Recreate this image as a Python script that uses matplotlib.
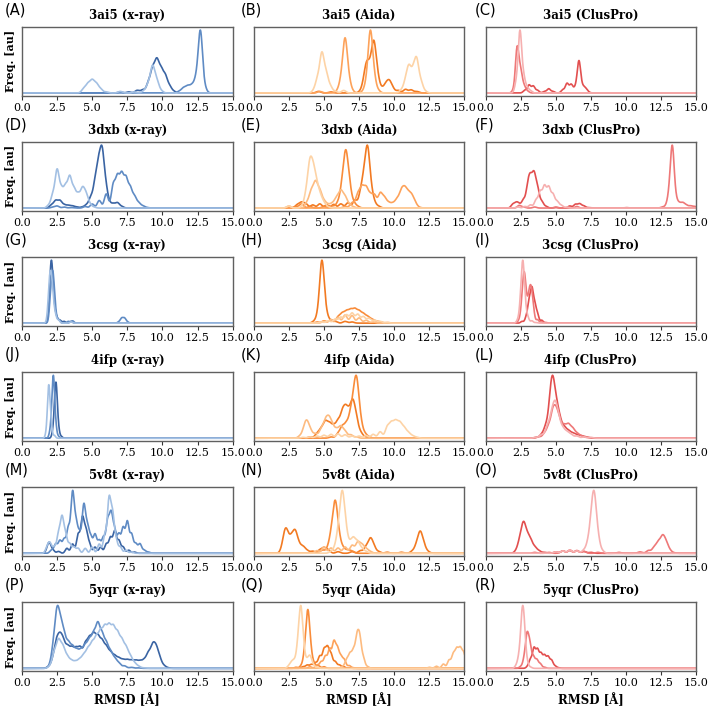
import numpy as np
import pandas as pd
import matplotlib
matplotlib.use("Agg")
import matplotlib.pyplot as plt
import seaborn as sns

targets = ["3ai5", "3dxb", "3csg", "4ifp", "5v8t", "5yqr"]
methods = ["x-ray", "Aida", "ClusPro"]
letters = list("ABCDEFGHIJKLMNOPQR")
x_ticks = [0.0, 2.5, 5.0, 7.5, 10.0, 12.5, 15.0]

# RMSD values (Å) of each docking run with their weights
# 3ai5
xray_3ai5 = [
    [(4.4, .8), (4.7, 1.6), (5.0, 2.2), (5.3, 1.6), (5.6, .7), (6.0, .2), (7.0, .3), (8.0, .2),
     (8.7, .4), (9.0, 1.6), (9.3, 4.8), (9.6, 2.2), (9.9, .4)],
    [(11.2, .3), (11.5, .9), (11.8, 1.2), (12.1, 1.3), (12.4, 2.5), (12.7, 11.5), (13.0, 1.0)],
    [(7.0, .2), (7.6, .2), (8.2, .5), (8.6, .6), (9.0, 1.8), (9.3, 4.2), (9.6, 5.6), (9.9, 4.0),
     (10.2, 3.0), (10.5, 1.2), (10.8, .3)],
]
aida_3ai5 = [
    [(4.3, .5), (4.55, 2.5), (4.85, 7.2), (5.15, 3.5), (5.45, 1.2), (5.8, .3), (6.4, .5),
     (10.5, .5), (10.8, 2.0), (11.05, 4.6), (11.35, 3.6), (11.6, 5.8), (11.9, 2.0), (12.2, .3)],
    [(4.7, .3), (6.0, .5), (6.25, 2.5), (6.5, 9.5), (6.75, 2.5), (7.0, .4),
     (7.8, .3), (8.05, 2.0), (8.3, 11.0), (8.55, 3.0), (8.85, .5)],
    [(4.6, .3), (5.5, .2), (7.6, .3), (7.85, 1.8), (8.05, 4.5), (8.3, 4.0), (8.55, 8.5), (8.8, 3.0),
     (9.1, .8), (9.4, 1.5), (9.65, 2.0), (9.9, .8), (10.3, .5), (10.8, .7), (11.2, .6), (11.6, .3)],
]
cluspro_3ai5 = [
    [(2.2, 2.0), (2.45, 11.5), (2.7, 3.0), (2.95, 1.0), (3.2, .4)],
    [(2.0, .5), (2.25, 8.5), (2.5, 4.0), (2.75, 1.2), (3.0, .3)],
    [(2.8, .5), (3.1, 1.5), (3.4, 1.3), (3.7, .5), (4.2, .3), (4.5, .8), (4.8, .3), (5.5, .6),
     (5.8, 1.8), (6.1, 1.6), (6.4, 1.0), (6.65, 6.0), (6.9, 1.0), (7.1, .8), (7.3, .2)],
]
# 3dxb
xray_3dxb = [
    [(1.9, .5), (2.2, 2.5), (2.5, 7.2), (2.8, 3.5), (3.1, 4.0), (3.4, 5.8), (3.7, 3.5), (4.0, 2.5),
     (4.3, 3.5), (4.55, 2.5), (4.8, .8), (5.1, .2)],
    [(2.2, .2), (2.5, .4), (3.0, .2), (3.5, .1), (4.5, .3), (5.0, .8), (5.5, 1.5), (6.0, 2.8),
     (6.5, 4.5), (6.8, 5.8), (7.1, 6.2), (7.4, 5.5), (7.7, 3.8), (8.0, 2.2), (8.3, 1.0), (8.6, .4),
     (8.9, .1)],
    [(2.1, .6), (2.4, 1.4), (2.7, 1.4), (3.0, .6), (3.3, .5), (3.6, .4), (3.9, .2), (4.3, .2),
     (4.6, .6), (4.9, 2.0), (5.2, 4.5), (5.45, 7.5), (5.7, 10.0), (5.95, 4.0), (6.2, 1.0), (6.5, .8),
     (6.8, 1.0), (7.1, .3)],
]
aida_3dxb = [
    [(2.5, .4), (3.5, .4), (3.75, 2.5), (4.0, 7.5), (4.25, 6.0), (4.5, 3.5), (4.75, 1.8), (5.0, .8),
     (5.3, .2)],
    [(2.5, .4), (3.8, 1.0), (4.1, 3.0), (4.4, 4.5), (4.7, 3.0), (5.0, 1.2), (5.3, .6), (5.6, .8),
     (5.9, 1.8), (6.2, 3.0), (6.5, 2.0), (6.8, .6), (7.1, .2)],
    [(6.5, .3), (7.0, 1.0), (7.4, 2.5), (7.7, 3.6), (8.0, 3.5), (8.3, 2.2), (8.6, 2.3), (9.0, 2.7),
     (9.3, 1.8), (9.6, .9), (9.9, .8), (10.2, 1.5), (10.5, 2.8), (10.75, 3.0), (11.0, 2.2),
     (11.25, 2.0), (11.5, .8), (11.8, .1)],
    [(3.0, .3), (3.4, .8), (4.0, .3), (5.0, .3), (5.6, .4), (6.0, 1.0), (6.3, 4.0), (6.55, 9.2),
     (6.8, 4.0), (7.1, 1.0), (7.4, .3)],
    [(3.1, .6), (3.4, 1.0), (3.7, .8), (4.2, .6), (4.7, .8), (5.2, .6), (5.7, .7), (6.2, .8),
     (6.7, 1.0), (7.2, 1.5), (7.6, 2.5), (7.85, 5.0), (8.1, 10.0), (8.35, 3.0), (8.6, .8), (8.9, .3)],
]
cluspro_3dxb = [
    [(2.3, .2), (2.8, .3), (3.2, .6), (3.6, 1.5), (3.9, 3.0), (4.2, 4.0), (4.5, 3.8), (4.8, 2.5),
     (5.1, 1.2), (5.4, .5), (5.8, .2)],
    [(2.4, .5), (2.7, .2), (3.5, .2), (5.0, .2), (6.5, .3), (10.0, .1), (12.6, .2), (12.9, .5),
     (13.1, 2.5), (13.3, 11.0), (13.55, 1.5), (13.8, .8), (14.05, .9), (14.3, .5), (14.6, .4),
     (14.9, .3)],
    [(1.95, .7), (2.2, .9), (2.4, .6), (2.7, 1.5), (3.0, 3.5), (3.2, 4.8), (3.45, 5.8), (3.7, 3.5),
     (4.0, 1.2), (4.3, .3), (5.0, .1), (6.0, .4), (6.4, .7), (6.7, .8), (7.0, .4), (7.4, .1)],
]
# 3csg
xray_3csg = [
    [(1.9, 2.0), (2.0, 6.0), (2.15, 5.0), (2.35, 1.5), (2.6, .5), (3.5, .2)],
    [(2.05, 4.0), (2.2, 7.0), (2.35, 2.0), (2.6, .6), (3.3, .3), (3.6, .4), (6.9, .2), (7.1, .8),
     (7.3, .8), (7.5, .2)],
    [(2.0, 3.0), (2.1, 8.0), (2.25, 3.0), (2.45, 1.0), (2.7, .5), (3.0, .3), (3.5, .3)],
]
aida_3csg = [
    [(4.8, .2), (5.3, .4), (5.8, .7), (6.2, 1.0), (6.6, 1.4), (7.0, 1.7), (7.4, 1.5), (7.8, 1.1),
     (8.2, .8), (8.6, .5), (9.0, .3), (9.5, .1)],
    [(5.0, .3), (5.5, .6), (6.0, 1.0), (6.5, 1.4), (7.0, 1.3), (7.5, .9), (8.0, .5), (8.5, .2)],
    [(4.5, .2), (5.0, .4), (5.5, .6), (6.0, 1.0), (6.3, 1.5), (6.6, 1.8), (6.9, 2.0), (7.2, 2.1),
     (7.5, 1.8), (7.8, 1.4), (8.1, 1.0), (8.4, .6), (8.7, .3), (9.0, .2), (9.5, .1)],
    [(4.3, .3), (4.6, 1.5), (4.85, 10.0), (5.1, 2.0), (5.4, .5), (5.8, .3), (6.5, .3), (7.0, .2)],
]
cluspro_3csg = [
    [(2.3, .5), (2.5, 3.0), (2.65, 9.0), (2.8, 3.0), (3.0, 1.0), (3.3, .4), (3.6, .1)],
    [(2.4, .5), (2.6, 3.0), (2.75, 7.0), (2.9, 3.0), (3.1, 4.0), (3.25, 4.5), (3.4, 2.0), (3.7, .6),
     (4.0, .2)],
    [(2.6, .3), (2.9, 1.0), (3.1, 3.5), (3.3, 5.5), (3.5, 3.0), (3.7, 1.5), (4.0, .5), (4.3, .1)],
]
# 4ifp
xray_4ifp = [
    [(1.75, 1.0), (1.9, 9.0), (2.05, 3.0), (2.3, .5)],
    [(2.0, 1.0), (2.15, 4.0), (2.25, 9.0), (2.4, 2.0), (2.6, .3)],
    [(2.2, 1.0), (2.35, 5.0), (2.45, 7.0), (2.6, 1.5), (2.8, .3)],
]
aida_4ifp = [
    [(3.5, .2), (4.0, .3), (4.5, .5), (5.0, .7), (5.5, .9), (6.0, 1.0), (6.5, .8), (7.0, .5),
     (7.5, .5), (8.0, .6), (8.5, .9), (9.0, 1.5), (9.5, 2.5), (9.8, 3.2), (10.1, 3.5), (10.4, 3.2),
     (10.7, 2.2), (11.0, 1.2), (11.3, .5), (11.6, .2)],
    [(3.3, .5), (3.6, 2.0), (3.8, 3.0), (4.05, 1.5), (4.4, 1.0), (4.8, 2.0), (5.1, 3.5), (5.35, 3.8),
     (5.6, 2.5), (5.9, 1.8), (6.2, 2.5), (6.5, 1.5), (6.9, .8), (7.3, .3)],
    [(5.5, .3), (6.0, 1.0), (6.3, 2.5), (6.6, 3.0), (6.9, 5.0), (7.15, 7.5), (7.35, 10.0),
     (7.6, 3.5), (7.9, 1.0), (8.2, .3)],
    [(4.0, .3), (4.5, 1.0), (4.8, 2.0), (5.1, 3.5), (5.4, 3.0), (5.7, 2.5), (6.0, 3.5), (6.3, 5.0),
     (6.55, 5.5), (6.8, 4.5), (7.05, 7.0), (7.3, 4.0), (7.6, 1.2), (7.9, .3)],
]
cluspro_4ifp = [
    [(3.6, .2), (4.0, .8), (4.4, 2.5), (4.7, 4.5), (4.95, 6.5), (5.2, 4.0), (5.5, 2.0), (5.8, 1.3),
     (6.1, .8), (6.5, .5), (7.0, .3), (7.5, .2)],
    [(3.8, .3), (4.2, 1.0), (4.5, 2.5), (4.8, 5.5), (5.05, 5.0), (5.3, 3.0), (5.6, 2.5), (5.9, 2.8),
     (6.2, 2.0), (6.5, 1.0), (6.8, .5), (7.2, .2)],
    [(3.6, .2), (4.0, .8), (4.3, 2.5), (4.6, 6.5), (4.8, 10.0), (5.05, 6.0), (5.3, 3.5), (5.6, 2.2),
     (5.9, 1.5), (6.2, 1.0), (6.5, .7), (6.8, .5), (7.1, .3), (7.4, .1)],
]
# 5v8t
xray_5v8t = [
    [(1.8, 1.0), (2.0, 1.5), (2.3, 1.0), (2.6, 3.0), (2.85, 5.5), (3.1, 3.0), (3.4, 1.5), (3.7, 1.0),
     (4.0, .8), (4.5, .8), (5.0, 1.0), (5.5, 1.5), (5.9, 3.0), (6.2, 8.5), (6.45, 6.0), (6.7, 2.0),
     (7.0, 1.0), (7.4, .5), (7.8, .2)],
    [(2.1, .5), (2.4, 1.5), (2.7, 2.0), (3.0, 2.2), (3.3, 4.0), (3.6, 9.5), (3.85, 4.5), (4.1, 3.0),
     (4.4, 7.5), (4.65, 4.0), (4.9, 2.5), (5.2, 3.0), (5.5, 2.0), (5.8, 2.5), (6.1, 5.0), (6.35, 6.0),
     (6.6, 3.5), (6.9, 3.0), (7.2, 4.0), (7.5, 5.0), (7.8, 3.0), (8.1, 1.5), (8.4, 1.5), (8.7, .5),
     (9.0, .2)],
    [(1.8, .5), (1.95, 1.5), (2.2, .5), (2.6, .3), (3.2, .8), (3.6, 1.5), (4.0, 3.0), (4.3, 5.5),
     (4.55, 3.5), (4.8, 1.5), (5.2, 1.0), (5.6, 1.0), (6.0, 1.5), (6.3, 2.5), (6.6, 3.5), (6.9, 2.0),
     (7.2, 1.0), (7.6, .5), (8.0, .2)],
]
aida_5v8t = [
    [(5.5, .3), (5.8, 1.0), (6.05, 4.0), (6.3, 10.0), (6.55, 4.0), (6.85, 1.5), (7.1, 2.5),
     (7.4, 2.0), (7.7, .8), (8.0, .3)],
    [(4.5, .5), (5.0, 1.2), (5.5, 1.0), (6.0, 1.0), (6.5, 1.2), (7.0, 1.5), (7.4, 2.0), (7.7, 1.5),
     (8.0, .8), (8.3, .3)],
    [(4.5, .2), (4.9, .6), (5.3, 1.0), (5.55, 3.5), (5.8, 8.5), (6.05, 3.0), (6.35, 1.0), (6.7, .6),
     (7.0, .4)],
    [(2.05, 1.0), (2.25, 3.5), (2.45, 2.0), (2.7, 2.5), (2.95, 3.5), (3.2, 1.5), (3.5, 1.2),
     (3.8, .5), (4.2, .4), (4.7, .6), (5.0, 1.0), (5.3, .6), (6.0, .3), (7.0, .3), (7.6, .5),
     (8.0, 1.2), (8.3, 2.5), (8.55, 1.2), (8.9, .3), (9.5, .2), (10.5, .2), (11.3, .4), (11.6, 1.5),
     (11.85, 3.5), (12.1, 1.5), (12.4, .3)],
]
cluspro_5v8t = [
    [(5.0, .3), (5.5, .5), (6.0, .7), (6.5, .5), (7.0, .6), (7.3, 2.0), (7.55, 6.0), (7.75, 10.0),
     (8.0, 3.0), (8.3, .5)],
    [(3.5, .2), (4.5, .2), (5.5, .5), (6.0, .7), (6.5, .6), (7.0, .4), (8.0, .2), (9.5, .2),
     (11.0, .3), (11.6, .6), (12.0, 1.2), (12.3, 2.2), (12.6, 3.2), (12.85, 2.0), (13.1, .6),
     (13.4, .1)],
    [(2.2, .5), (2.45, 2.5), (2.7, 5.5), (2.95, 3.0), (3.2, 2.5), (3.5, 1.2), (3.8, .5), (4.2, .2),
     (5.0, .3), (5.5, .5), (6.0, .6), (6.5, .5), (7.0, .4), (7.5, .2)],
]
# 5yqr
xray_5yqr = [
    [(2.0, .4), (2.3, 3.0), (2.6, 5.2), (2.9, 4.0), (3.2, 2.2), (3.5, 1.4), (3.8, 1.2), (4.1, 1.6),
     (4.4, 2.4), (4.7, 3.5), (5.0, 4.5), (5.3, 5.5), (5.6, 6.5), (5.9, 7.2), (6.2, 7.4), (6.5, 7.2),
     (6.8, 6.2), (7.1, 5.0), (7.4, 3.8), (7.7, 2.3), (8.0, 1.0), (8.3, .4), (8.7, .1)],
    [(2.0, .5), (2.25, 4.0), (2.5, 10.0), (2.75, 7.0), (3.0, 5.5), (3.3, 4.5), (3.6, 3.8), (3.9, 3.2),
     (4.2, 3.2), (4.5, 4.0), (4.8, 5.0), (5.1, 6.0), (5.4, 8.0), (5.7, 6.0), (6.0, 4.5), (6.3, 3.0),
     (6.6, 1.8), (6.9, 1.0), (7.3, .5), (7.8, .2), (8.3, .1)],
    [(1.9, .3), (2.2, 1.5), (2.45, 4.5), (2.7, 5.2), (2.95, 4.5), (3.25, 3.8), (3.55, 3.6),
     (3.85, 3.5), (4.15, 3.8), (4.5, 4.5), (4.8, 5.3), (5.1, 6.0), (5.4, 5.6), (5.7, 4.8), (6.0, 3.8),
     (6.3, 2.8), (6.6, 2.2), (6.9, 1.8), (7.2, 1.5), (7.5, 1.5), (7.8, 1.4), (8.1, 1.4), (8.4, 1.3),
     (8.7, 1.5), (9.0, 2.8), (9.3, 4.0), (9.55, 3.5), (9.8, 1.8), (10.1, .5), (10.4, .1)],
]
aida_5yqr = [
    [(2.5, .4), (2.7, 1.0), (2.9, 1.2), (3.15, 4.0), (3.35, 10.0), (3.55, 3.0), (3.8, 1.2),
     (4.0, 2.0), (4.2, .6), (4.5, .2)],
    [(6.3, .3), (6.6, 1.5), (6.85, 2.5), (7.1, 3.0), (7.35, 5.2), (7.55, 5.0), (7.8, 1.8), (8.1, .3),
     (12.5, .2), (13.0, .4), (13.5, .8), (13.9, 1.5), (14.2, 2.5), (14.45, 3.3), (14.7, 3.4),
     (14.95, 2.7)],
    [(4.0, .3), (4.5, .6), (4.8, 1.2), (5.1, 2.2), (5.4, 3.5), (5.7, 4.7), (5.95, 3.5), (6.2, 2.0),
     (6.45, 1.5), (6.8, .5), (7.1, .1)],
    [(3.0, .2), (3.4, .5), (3.65, 3.0), (3.85, 9.5), (4.05, 3.0), (4.3, .8), (4.6, .5), (5.0, .3)],
    [(3.5, .3), (3.8, .6), (4.1, .7), (4.4, 1.0), (4.7, 2.2), (5.0, 3.3), (5.25, 3.6), (5.5, 2.5),
     (5.8, 1.2), (6.1, .6), (6.4, .3), (6.8, .1)],
]
cluspro_5yqr = [
    [(2.2, .5), (2.4, 2.0), (2.6, 8.0), (2.75, 6.0), (2.95, 1.0), (3.2, .2)],
    [(2.5, .3), (2.75, 1.5), (2.95, 5.5), (3.15, 4.0), (3.4, 2.0), (3.65, 1.5), (3.9, .8), (4.2, .2)],
    [(3.0, .3), (3.2, 1.5), (3.45, 3.5), (3.7, 3.2), (3.95, 2.5), (4.2, 2.2), (4.45, 2.0), (4.7, 1.4),
     (4.95, .4), (5.2, .1)],
]

panels = [
    [xray_3ai5, aida_3ai5, cluspro_3ai5],
    [xray_3dxb, aida_3dxb, cluspro_3dxb],
    [xray_3csg, aida_3csg, cluspro_3csg],
    [xray_4ifp, aida_4ifp, cluspro_4ifp],
    [xray_5v8t, aida_5v8t, cluspro_5v8t],
    [xray_5yqr, aida_5yqr, cluspro_5yqr],
]

# styling: colour shades (light -> dark) and kernel width per panel
palettes = {
    "x-ray": ["#a3c0e3", "#7ea4d4", "#5f8bc4", "#4a76b4", "#3a64a3"],
    "Aida": ["#fdd3a6", "#fdbb80", "#fda25a", "#f98c3a", "#f27a22"],
    "ClusPro": ["#f6b0b0", "#f29191", "#ee7878", "#e96464", "#e24f4f"],
}
bandwidth = [
    [0.15, 0.15, 0.12],
    [0.14, 0.15, 0.13],
    [0.10, 0.15, 0.10],
    [0.085, 0.15, 0.15],
    [0.12, 0.15, 0.15],
    [0.15, 0.12, 0.11],
]


def shades_for(n, pal):
    if n == 3:
        return [pal[0], pal[2], pal[4]]
    if n == 4:
        return [pal[0], pal[1], pal[3], pal[4]]
    return pal[:n]


def draw_panel(ax, runs, pal, bw):
    rows = []
    for k, run in enumerate(runs):
        for r, w in run:
            rows.append((r, w, f"run{k}"))
    df = pd.DataFrame(rows, columns=["rmsd", "weight", "run"])
    order = [f"run{k}" for k in range(len(runs))]

    def fixed_bw(kde):
        # absolute kernel width in Å
        return bw / np.sqrt(np.cov(kde.dataset, aweights=kde.weights))

    sns.kdeplot(data=df, x="rmsd", weights="weight", hue="run", hue_order=order,
                palette=shades_for(len(runs), pal), bw_method=fixed_bw, cut=300,
                clip=(0, 15), gridsize=1200, linewidth=1.2, legend=False, ax=ax)
    ymax = max(line.get_ydata().max() for line in ax.lines)
    ax.set_ylim(-0.045 * ymax, 1.05 * ymax)


serif = "DejaVu Serif"
fig, axes = plt.subplots(6, 3, figsize=(7.09, 7.08), dpi=100,
                         gridspec_kw=dict(left=0.031, right=0.982, top=0.962, bottom=0.052,
                                          wspace=0.1, hspace=0.67))
letter_x = [-0.081, -0.062, -0.05]

for i, target in enumerate(targets):
    for j, method in enumerate(methods):
        ax = axes[i, j]
        draw_panel(ax, panels[i][j], palettes[method], bandwidth[i][j])
        ax.set_xlim(0, 15)
        ax.set_xticks(x_ticks)
        ax.set_xticklabels([f"{t:.1f}" for t in x_ticks], family=serif, fontsize=8)
        ax.set_yticks([])
        ax.tick_params(axis="x", length=3, width=0.8, pad=2, color="#333333")
        for sp in ax.spines.values():
            sp.set_color("#606060")
            sp.set_linewidth(1.0)
        ax.set_title(f"{target} ({method})", family=serif, fontweight="bold", fontsize=8.5, pad=6)
        ax.set_ylabel("Freq. [au]" if j == 0 else "", family=serif, fontweight="bold",
                      fontsize=8, labelpad=4)
        ax.set_xlabel("RMSD [Å]" if i == len(targets) - 1 else "", family=serif,
                      fontweight="bold", fontsize=8.5, labelpad=4)
        ax.text(letter_x[j], 1.25, f"({letters[i * 3 + j]})", transform=ax.transAxes,
                ha="left", va="center", fontsize=10.5, family="DejaVu Sans")

fig.savefig("out.png", dpi=100)
